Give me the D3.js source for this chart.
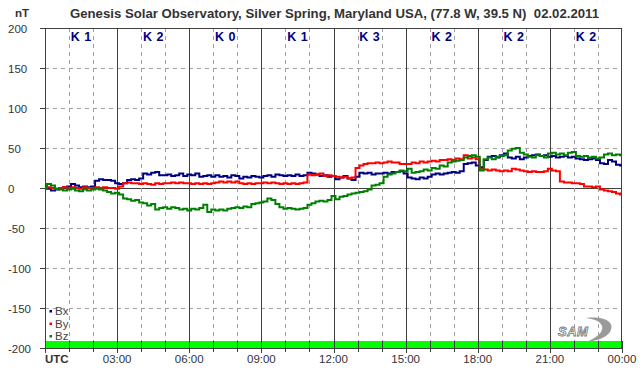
<!DOCTYPE html>
<html><head><meta charset="utf-8">
<script src="https://cdn.jsdelivr.net/npm/d3@7"></script>
<style>body{margin:0;background:#fff}svg{display:block;font-family:Arial,"Liberation Sans",sans-serif}</style>
</head><body>
<svg id="c" width="642" height="376"></svg>
<script>
const title = "Genesis Solar Observatory, Silver Spring, Maryland USA, (77.8 W, 39.5 N)  02.02.2011";
const kIndex = ["K 1","K 2","K 0","K 1","K 3","K 2","K 2","K 2"];
const xTickLabels = ["UTC","03:00","06:00","09:00","12:00","15:00","18:00","21:00","00:00"];
const yTicks = [200,150,100,50,0,-50,-100,-150,-200];
const seriesNames = ["Bx","By","Bz"];
const seriesColors = ["#000080","#ff0000","#008000"];
const stepMinutes = 10;
const bx = [0,-1,-3,-2,0,1,2, 5,3,1,2,1,2, 9,11,10,10,9,6, 5,6,10,11,10,12, 18,17,19,20,16,16, 17,15,16,18,15,17,
 16,18,14,15,16,14, 16,14,15,13,16,15, 12,14,13,15,14,13, 15,16,14,17,16,15, 16,15,17,15,16,19, 18,17,15,16,14,15,
 11,13,15,12,10,14, 19,18,19,17,18,18, 19,18,20,20,21,18, 13,12,11,13,12,14, 17,18,17,18,19,20, 19,21,30,31,32,28,
 26,35,39,40,38,41, 43,38,37,39,36,38, 40,41,42,40,41,39, 40,38,39,40,38,39, 37,36,35,36,37,35, 31,30,35,33,29,28];
const by = [0,1,0,-1,0,1,0, 1,0,-1,1,0,0, 1,0,1,0,0,-1, 2,6,7,6,6,5, 6,5,4,6,5,6, 6,7,6,7,6,6,
 5,6,5,6,5,6, 7,8,7,8,7,8, 6,5,6,5,6,6, 7,6,7,6,5,6, 5,6,5,6,7,17, 16,17,18,15,16,15,
 14,13,14,12,13,25, 28,30,31,31,32,31, 32,33,32,32,30,30, 30,32,31,33,32,33, 34,33,35,35,36,35, 37,36,41,37,38,36,
 24,23,22,23,22,21, 22,21,24,23,22,21, 20,21,20,20,21,24, 22,21,8,7,7,6, 6,5,2,2,1,2, -2,-3,-4,-5,-7,-8];
const bz = [0,5,3,-1,-2,-3,-2, -1,-3,-4,-2,-3,-2, -1,-2,-3,-5,-7,-6, -8,-13,-14,-16,-15,-18, -19,-22,-20,-27,-25,-24, -26,-24,-25,-27,-26,-28,
 -26,-27,-25,-21,-30,-27, -28,-27,-28,-26,-25,-24, -25,-23,-24,-20,-19,-18, -17,-13,-15,-20,-24,-26, -25,-26,-27,-26,-25,-21, -19,-17,-16,-17,-15,-10,
 -14,-11,-10,-8,-7,-6, -5,-4,-2,3,4,6, 14,17,18,20,22,21, 24,19,20,21,23,22, 25,24,28,27,32,33, 34,35,38,40,41,39,
 22,36,38,36,39,40, 41,47,49,50,44,42, 39,38,41,40,38,43, 44,42,43,41,44,45, 40,39,40,38,39,37, 38,42,43,41,42,41];
const series = [bx, by, bz];

const svg = d3.select("#c");
const L = 45, R = 622, T = 28, B = 348;
const x = d3.scaleLinear().domain([0, 24]).range([L, R]);
const y = d3.scaleLinear().domain([-200, 200]).range([B, T]);
const frame = "#404040", grid = "#a0a0a0";

// green bar
svg.append("rect").attr("x", L).attr("y", 341).attr("width", R - L).attr("height", B - 341).attr("fill", "#00ff00");

// horizontal grid
yTicks.forEach(v => {
  if (v === 200 || v === -200) return;
  svg.append("line").attr("x1", L).attr("x2", R).attr("y1", Math.round(y(v)) + 0.5).attr("y2", Math.round(y(v)) + 0.5)
    .attr("stroke", v === 0 ? frame : grid).attr("stroke-width", 1)
    .attr("stroke-dasharray", v === 0 ? null : "4,4");
});
// vertical grid
d3.range(1, 24).forEach(h => {
  const xx = Math.round(x(h)) + 0.5;
  const major = h % 3 === 0;
  svg.append("line").attr("x1", xx).attr("x2", xx).attr("y1", T).attr("y2", major ? B : 341)
    .attr("stroke", major ? frame : grid).attr("stroke-dasharray", major ? null : "4,4");
});

// frame
svg.append("rect").attr("x", L + 0.5).attr("y", T + 0.5).attr("width", R - L - 1).attr("height", B - T)
  .attr("fill", "none").attr("stroke", frame);

// y ticks and labels
yTicks.forEach(v => {
  const yy = Math.round(y(v)) + 0.5;
  svg.append("line").attr("x1", 40).attr("x2", L).attr("y1", yy).attr("y2", yy).attr("stroke", frame);
  svg.append("text").attr("x", 8).attr("y", yy + 4).attr("font-size", 11.5).attr("fill", "#333").text(v);
});
// x ticks
d3.range(0, 25).forEach(h => {
  const xx = Math.round(x(h)) + 0.5;
  svg.append("line").attr("x1", xx).attr("x2", xx).attr("y1", 341).attr("y2", h % 3 === 0 ? 353 : 352).attr("stroke", frame);
});
xTickLabels.forEach((t, i) => {
  const xx = x(i * 3);
  const txt = svg.append("text").attr("y", 363).attr("font-size", 11.5).attr("fill", "#333").text(t);
  if (i === 0) txt.attr("x", L).attr("font-weight", "bold");
  else txt.attr("x", xx).attr("text-anchor", "middle");
});

// K labels
kIndex.forEach((k, i) => {
  svg.append("text").attr("x", x(i * 3 + 1.5)).attr("y", 41).attr("text-anchor", "middle")
    .attr("font-size", 12.5).attr("font-weight", "bold").attr("fill", "#000080").attr("word-spacing", 1).text(k);
});

// title
svg.append("text").attr("x", 334.5).attr("y", 18).attr("text-anchor", "middle").attr("font-size", 12.5)
  .attr("font-weight", "bold").attr("fill", "#333").attr("textLength", 529).attr("lengthAdjust", "spacingAndGlyphs")
  .style("white-space", "pre").text(title);
svg.append("text").attr("x", 15).attr("y", 17).attr("font-size", 11.5).attr("font-weight", "bold").attr("fill", "#333").text("nT");

// data lines
const clip = svg.append("clipPath").attr("id", "pc").append("rect").attr("x", L).attr("y", T).attr("width", R - L).attr("height", B - T);
const line = d3.line().x((d, i) => x(i * stepMinutes / 60)).y(d => y(d)).curve(d3.curveStep);
series.forEach((s, k) => {
  svg.append("path").datum(s).attr("d", line).attr("fill", "none").attr("stroke", seriesColors[k])
    .attr("stroke-width", 2).attr("clip-path", "url(#pc)");
});

// legend
seriesNames.forEach((n, k) => {
  const yy = 311 + k * 12.5;
  svg.append("rect").attr("x", 49.5).attr("y", yy - 1).attr("width", 2.5).attr("height", 2.5).attr("fill", seriesColors[k]);
  svg.append("text").attr("x", 55).attr("y", yy + 4).attr("font-size", 11.5).attr("fill", "#444").text(n);
});

// SAM logo
const logo = svg.append("g").attr("transform", "translate(556,318)");
logo.append("path").attr("d", "M30,0 C48,-2 60,4 54,14 C50,20 40,23 30,24 C40,20 48,14 46,8 C44,3 38,1 30,0 Z").attr("fill", "#9a9a9a");
logo.append("text").attr("x", 2).attr("y", 18).attr("font-size", 13).attr("font-style", "italic").attr("font-weight", "bold")
  .attr("fill", "#fff").attr("stroke", "#777").attr("stroke-width", 0.8).attr("letter-spacing", 0.5).text("SAM");
</script>
</body></html>
